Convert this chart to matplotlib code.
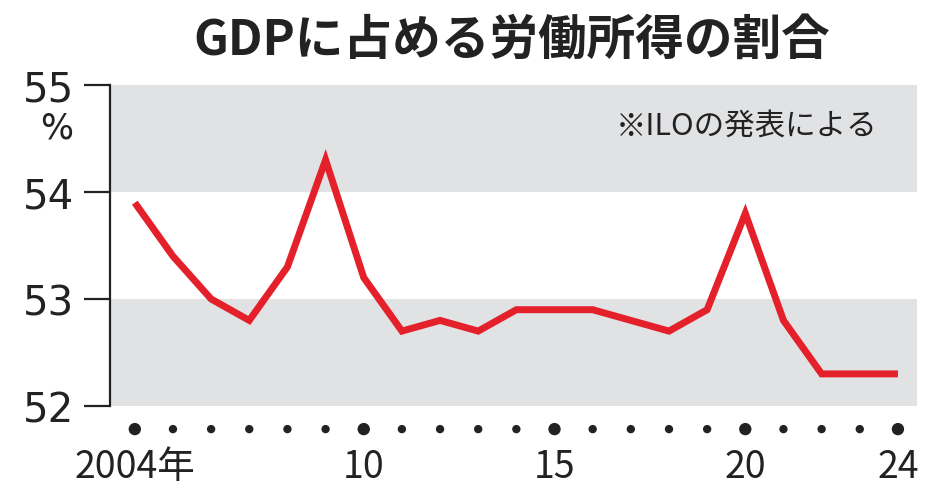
import matplotlib.pyplot as plt
import numpy as np

# データ（ILO発表、GDPに占める労働所得の割合 %）
years = list(range(2004, 2025))
share = [53.9, 53.4, 53.0, 52.8, 53.3, 54.3, 53.2, 52.7, 52.8, 52.7,
         52.9, 52.9, 52.9, 52.8, 52.7, 52.9, 53.8, 52.8, 52.3, 52.3, 52.3]
yticks = [52, 53, 54, 55]
xlabel_years = [2004, 2010, 2015, 2020, 2024]
xlabel_text = ['2004年', '10', '15', '20', '24']

jp = ['Noto Sans CJK JP', 'DejaVu Sans']

fig = plt.figure(figsize=(9.34, 5.02), dpi=100)
ax = fig.add_axes([110/934, 95/502, 807/934, 321/502])

# 背景の帯
ax.axhspan(52, 53, color='#E1E2E4', lw=0, zorder=0)
ax.axhspan(54, 55, color='#E1E2E4', lw=0, zorder=0)

ax.plot(years, share, color='#E4202B', lw=5, solid_joinstyle='miter',
        solid_capstyle='butt', zorder=3)

ax.set_xlim(2003.35, 2024.5)
ax.set_ylim(52, 55)

for s in ['top', 'right', 'bottom']:
    ax.spines[s].set_visible(False)
ax.spines['left'].set_linewidth(1.6)
ax.spines['left'].set_color('#222222')

ax.set_xticks([])
ax.set_yticks(yticks)
ax.set_yticklabels([str(v) for v in yticks], fontsize=29, color='#222222',
                   family='DejaVu Sans')
ax.tick_params(axis='y', length=19, width=1.6, pad=7, color='#222222')

# 年のドット
sizes = [62 if y in xlabel_years else 25 for y in years]
ax.scatter(years, [-0.072] * len(years), s=sizes, color='#222222',
           transform=ax.get_xaxis_transform(), clip_on=False, zorder=4)

for y, t in zip(xlabel_years, xlabel_text):
    ax.text(y, -0.19, t, transform=ax.get_xaxis_transform(), ha='center',
            va='center', fontsize=27, color='#222222', family=jp)

ax.annotate('%', xy=(-0.066, 54.6), xycoords=('axes fraction', 'data'),
            ha='center', va='center', fontsize=25, color='#222222',
            family='DejaVu Sans')

ax.text(0.951, 0.875, '※ILOの発表による', transform=ax.transAxes, ha='right',
        va='center', fontsize=22, color='#222222', family=jp)

fig.text(0.548, 0.92, 'GDPに占める労働所得の割合', ha='center', va='center',
         fontsize=35, fontweight='bold', color='#222222', family=jp)

fig.savefig('out.png', dpi=100)
